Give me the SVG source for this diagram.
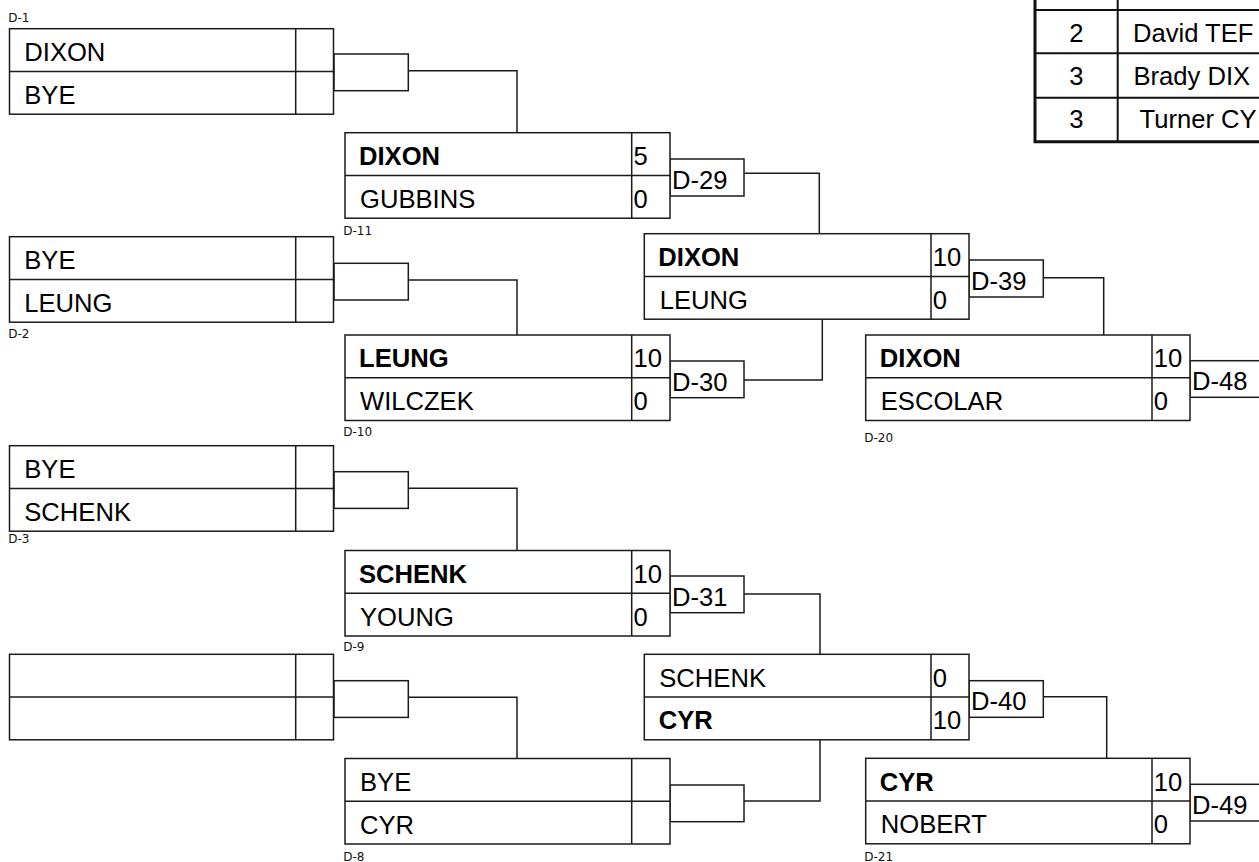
<svg xmlns="http://www.w3.org/2000/svg" width="1259" height="862" viewBox="0 0 1259 862">
<style>
.bx{fill:#fff;stroke:#1b1b1b;stroke-width:1.5}
.ln{fill:none;stroke:#1b1b1b;stroke-width:1.5}
.mr{fill:#fff;stroke:#1b1b1b;stroke-width:1.5}
.nm{font-family:"Liberation Sans",Arial,sans-serif;font-size:25.6px;fill:#000}
.b{font-weight:bold}
.lbl{font-family:"DejaVu Sans",sans-serif;font-size:12px;fill:#111}
.tl{stroke:#111;stroke-width:2;fill:none}
.tt{stroke:#111;stroke-width:3;fill:none}
</style>
<rect width="1259" height="862" fill="#fff"/>

<g id="connectors">
  <rect class="mr" x="334" y="54" width="74.3" height="36.7"/>
  <path class="ln" d="M408.3,70.7 H517 V132.7"/>
  <rect class="mr" x="334" y="263.3" width="74.3" height="36.7"/>
  <path class="ln" d="M408.3,280 H517 V335"/>
  <rect class="mr" x="334" y="471.7" width="74.3" height="36.7"/>
  <path class="ln" d="M408.3,488.3 H517 V550.5"/>
  <rect class="mr" x="334" y="680.7" width="74.3" height="36.7"/>
  <path class="ln" d="M408.3,697.3 H517 V758.5"/>

  <rect class="mr" x="670" y="159" width="74" height="37"/>
  <text class="nm" x="672" y="188.5">D-29</text>
  <path class="ln" d="M744,173.3 H819.3 V233.7"/>
  <rect class="mr" x="670" y="361" width="74" height="36.7"/>
  <text class="nm" x="672" y="390.5">D-30</text>
  <path class="ln" d="M744,380 H822.3 V319.2"/>
  <rect class="mr" x="670" y="576" width="74" height="36.7"/>
  <text class="nm" x="672" y="605.5">D-31</text>
  <path class="ln" d="M744,594 H820 V654.3"/>
  <rect class="mr" x="670" y="785" width="74" height="36.7"/>
  <path class="ln" d="M744,801 H820 V739.8"/>

  <rect class="mr" x="969" y="260" width="74.3" height="37"/>
  <text class="nm" x="971" y="289.5">D-39</text>
  <path class="ln" d="M1043.3,277.7 H1103.7 V335"/>
  <rect class="mr" x="969" y="680.7" width="74.3" height="36.6"/>
  <text class="nm" x="971" y="710">D-40</text>
  <path class="ln" d="M1043.3,696.7 H1106.7 V758.3"/>

  <rect class="mr" x="1190" y="360.7" width="80" height="36.6"/>
  <text class="nm" x="1192" y="390.2">D-48</text>
  <rect class="mr" x="1190" y="784.3" width="80" height="36.7"/>
  <text class="nm" x="1192" y="813.8">D-49</text>
</g>

<g id="D-1">
  <rect class="bx" x="9.5" y="28.7" width="324" height="85.5"/>
  <path class="ln" d="M9.5,71.45 H333.5 M295.7,28.7 V114.2"/>
  <text class="nm" x="24.3" y="61">DIXON</text>
  <text class="nm" x="24.3" y="103.8">BYE</text>
  <text class="lbl" x="8.3" y="21.7">D-1</text>
</g>
<g id="D-2">
  <rect class="bx" x="9.5" y="236.7" width="324" height="85.5"/>
  <path class="ln" d="M9.5,279.45 H333.5 M295.7,236.7 V322.2"/>
  <text class="nm" x="24.3" y="269">BYE</text>
  <text class="nm" x="24.3" y="311.7">LEUNG</text>
  <text class="lbl" x="8.3" y="338.3">D-2</text>
</g>
<g id="D-3">
  <rect class="bx" x="9.5" y="445.7" width="324" height="85.5"/>
  <path class="ln" d="M9.5,488.45 H333.5 M295.7,445.7 V531.2"/>
  <text class="nm" x="24.3" y="478">BYE</text>
  <text class="nm" x="24.3" y="520.7">SCHENK</text>
  <text class="lbl" x="8.3" y="543.3">D-3</text>
</g>
<g id="D-4">
  <rect class="bx" x="9.5" y="654.3" width="324" height="85.5"/>
  <path class="ln" d="M9.5,697.05 H333.5 M295.7,654.3 V739.8"/>
</g>

<g id="D-11">
  <rect class="bx" x="345" y="132.7" width="325" height="85.5"/>
  <path class="ln" d="M345,175.45 H670 M631.7,132.7 V218.2"/>
  <text class="nm b" x="359" y="165">DIXON</text>
  <text class="nm" x="360" y="207.7">GUBBINS</text>
  <text class="nm" x="633.5" y="165">5</text>
  <text class="nm" x="633.5" y="207.7">0</text>
  <text class="lbl" x="343.2" y="235">D-11</text>
</g>
<g id="D-10">
  <rect class="bx" x="345" y="335" width="325" height="85.5"/>
  <path class="ln" d="M345,377.75 H670 M631.7,335 V420.5"/>
  <text class="nm b" x="359" y="367.3">LEUNG</text>
  <text class="nm" x="360" y="410">WILCZEK</text>
  <text class="nm" x="633.5" y="367.3">10</text>
  <text class="nm" x="633.5" y="410">0</text>
  <text class="lbl" x="343.2" y="436">D-10</text>
</g>
<g id="D-9">
  <rect class="bx" x="345" y="550.5" width="325" height="85.5"/>
  <path class="ln" d="M345,593.25 H670 M631.7,550.5 V636"/>
  <text class="nm b" x="359" y="582.8">SCHENK</text>
  <text class="nm" x="360" y="625.5">YOUNG</text>
  <text class="nm" x="633.5" y="582.8">10</text>
  <text class="nm" x="633.5" y="625.5">0</text>
  <text class="lbl" x="343.2" y="651">D-9</text>
</g>
<g id="D-8">
  <rect class="bx" x="345" y="758.5" width="325" height="85.5"/>
  <path class="ln" d="M345,801.25 H670 M631.7,758.5 V844"/>
  <text class="nm" x="360" y="790.8">BYE</text>
  <text class="nm" x="360" y="833.5">CYR</text>
  <text class="lbl" x="343.2" y="861">D-8</text>
</g>

<g id="D-29-match">
  <rect class="bx" x="644.3" y="233.7" width="324.7" height="85.5"/>
  <path class="ln" d="M644.3,276.45 H969 M931,233.7 V319.2"/>
  <text class="nm b" x="658.3" y="266">DIXON</text>
  <text class="nm" x="659.8" y="308.7">LEUNG</text>
  <text class="nm" x="932.8" y="266">10</text>
  <text class="nm" x="932.8" y="308.7">0</text>
</g>
<g id="D-31-match">
  <rect class="bx" x="644.3" y="654.3" width="324.7" height="85.5"/>
  <path class="ln" d="M644.3,697.05 H969 M931,654.3 V739.8"/>
  <text class="nm" x="659.3" y="686.6">SCHENK</text>
  <text class="nm b" x="658.8" y="729.3">CYR</text>
  <text class="nm" x="932.8" y="686.6">0</text>
  <text class="nm" x="932.8" y="729.3">10</text>
</g>

<g id="D-20">
  <rect class="bx" x="865.7" y="335" width="324.3" height="85.5"/>
  <path class="ln" d="M865.7,377.75 H1190 M1152,335 V420.5"/>
  <text class="nm b" x="879.8" y="367.3">DIXON</text>
  <text class="nm" x="880.8" y="410">ESCOLAR</text>
  <text class="nm" x="1153.8" y="367.3">10</text>
  <text class="nm" x="1153.8" y="410">0</text>
  <text class="lbl" x="864.3" y="441.7">D-20</text>
</g>
<g id="D-21">
  <rect class="bx" x="865.7" y="758.3" width="324.3" height="85.5"/>
  <path class="ln" d="M865.7,801.05 H1190 M1152,758.3 V843.8"/>
  <text class="nm b" x="879.8" y="790.6">CYR</text>
  <text class="nm" x="880.8" y="833.3">NOBERT</text>
  <text class="nm" x="1153.8" y="790.6">10</text>
  <text class="nm" x="1153.8" y="833.3">0</text>
  <text class="lbl" x="864.3" y="861.2">D-21</text>
</g>

<g id="standings">
  <path class="tl" d="M1117.7,-2 V141.7 M1035,10 H1262 M1035,53.3 H1262 M1035,97.7 H1262"/>
  <path class="tt" d="M1035,-2 V141.7 H1262"/>
  <text class="nm" x="1076.3" y="42" text-anchor="middle">2</text>
  <text class="nm" x="1133" y="42">David TEF</text>
  <text class="nm" x="1076.3" y="85" text-anchor="middle">3</text>
  <text class="nm" x="1133.5" y="85">Brady DIX</text>
  <text class="nm" x="1076.3" y="128.3" text-anchor="middle">3</text>
  <text class="nm" x="1139.5" y="128.3">Turner CY</text>
</g>
</svg>
